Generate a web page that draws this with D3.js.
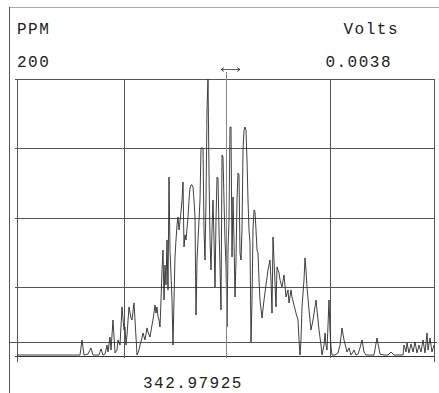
<!DOCTYPE html>
<html>
<head>
<meta charset="utf-8">
<script src="https://cdn.jsdelivr.net/npm/d3@7"></script>
<style>
  html, body { margin: 0; padding: 0; background: #fff; }
  svg { display: block; }
  text { font-family: "Liberation Mono", "DejaVu Sans Mono", monospace; fill: #222; }
</style>
</head>
<body>
<svg id="chart" width="439" height="393"></svg>
<script>
// ---- data ----
const leftTitle = "PPM";
const leftScaleLabel = "200";
const rightTitle = "Volts";
const rightScaleLabel = "0.0038";
const cursorLabel = "342.97925";

const yMax = 200;
const yGrid = [0, 50, 100, 150, 200];
const refLevel = 10;
const xGridChannels = [0, 107, 313, 417];
const cursorChannel = 209;
const channelMax = 417;

const channel = [0,63,65,67,71,74,76,82,84,86,88,90,91,93,94,96,98,100,101,103,105,107,108,109,110,112,114,115,117,119,120,122,123,125,126,128,130,131,133,135,136,138,139,140,141,142,143,144,145,146,147,148,149,150,151,152,153,154,155,156,157,158,159,160,161,162,164,165,166,167,168,169,171,172,173,174,175,176,177,178,179,180,181,182,183,184,186,187,188,189,190,191,192,193,194,195,196,197,198,199,200,201,202,203,204,205,206,207,208,209,210,211,212,213,214,215,216,217,218,219,220,221,222,223,224,225,226,227,228,229,230,231,232,233,234,235,236,237,238,239,240,241,242,243,245,247,249,251,253,254,255,256,257,259,260,262,263,265,267,269,271,272,274,275,277,279,281,282,283,284,285,287,288,289,290,292,294,296,299,301,302,304,305,307,308,309,310,312,313,314,315,318,321,323,325,327,329,330,332,334,336,337,339,341,343,345,347,349,357,360,363,367,371,374,377,386,387,389,390,392,394,396,398,400,402,404,406,408,410,411,413,415,417];
const intensity = [0.7,0.7,11.6,0.7,1.4,5.8,0.7,0.7,5.1,0.7,1.4,7.9,2.9,13.7,4.3,26.0,2.2,4.3,11.6,7.9,35.4,18.8,20.9,7.9,15.2,35.4,27.4,26.0,38.3,13.7,0.7,4.3,7.9,13.0,16.6,11.6,20.2,17.3,13.7,22.4,26.0,36.8,31.0,35.4,28.2,26.0,20.9,40.4,62.1,76.5,40.4,65.7,51.3,83.8,47.7,129.2,76.5,58.5,40.4,7.9,40.4,71.5,83.8,94.6,100.4,91.0,104.0,112.6,125.6,78.7,87.4,83.8,100.4,112.6,121.3,123.5,123.5,122.0,112.6,100.4,29.6,69.3,83.8,98.2,112.6,150.2,150.2,91.0,69.3,112.6,177.6,200,132.1,83.8,62.1,91.0,112.6,83.8,49.8,98.2,129.2,128.5,91.0,64.3,33.2,145.1,143.7,112.6,83.8,65.7,20.9,76.5,98.2,165.3,165.3,71.5,114.8,83.8,42.6,69.3,112.6,132.1,130.7,74.4,69.3,91.0,148.7,163.2,165.3,163.2,141.5,112.6,91.0,81.6,10.1,40.4,91.0,105.4,104.0,91.0,76.5,74.4,54.9,40.4,27.4,40.4,51.3,62.1,69.3,54.9,31.0,85.9,69.3,35.4,64.3,59.9,54.9,49.8,58.5,42.6,47.7,38.3,47.7,42.6,36.8,31.0,26.0,11.6,0.7,11.6,35.4,54.9,70.8,62.1,49.8,33.2,18.8,26.0,40.4,26.0,18.8,7.9,0.7,7.9,16.6,7.9,4.3,40.4,18.8,6.5,0.7,0.7,2.2,7.9,20.2,11.6,5.8,2.9,5.8,0.7,2.9,4.3,0.7,1.4,5.8,11.6,2.9,0.7,0.7,13.0,1.4,0.7,0.7,2.9,0.7,0.7,7.9,2.9,9.4,2.2,8.7,2.9,10.1,2.2,7.9,2.9,11.6,2.2,16.6,4.3,13.0,2.9,7.9];

// ---- layout ----
const plot = { left: 17, right: 434, top: 79, bottom: 356 };
const svg = d3.select("#chart");
const x = d3.scaleLinear().domain([0, channelMax]).range([plot.left, plot.right]);
const y = d3.scaleLinear().domain([0, yMax]).range([plot.bottom, plot.top]);
const crisp = v => Math.round(v) + 0.5;

// outer frame (scan border)
svg.append("line").attr("x1", 9.5).attr("x2", 439).attr("y1", 7.5).attr("y2", 7.5)
  .attr("stroke", "#aaa").attr("stroke-width", 1);
svg.append("line").attr("x1", 9.5).attr("x2", 9.5).attr("y1", 7).attr("y2", 393)
  .attr("stroke", "#555").attr("stroke-width", 1);

// horizontal grid
svg.append("g").selectAll("line").data(yGrid).join("line")
  .attr("x1", x(-2)).attr("x2", x(channelMax))
  .attr("y1", d => crisp(y(d))).attr("y2", d => crisp(y(d)))
  .attr("stroke", d => d === 0 ? "#333" : "#555").attr("stroke-width", 1);

// reference level line
svg.append("line")
  .attr("x1", x(-7)).attr("x2", x(channelMax + 3))
  .attr("y1", crisp(y(refLevel))).attr("y2", crisp(y(refLevel)))
  .attr("stroke", "#555").attr("stroke-width", 1);

// vertical grid
svg.append("g").selectAll("line").data(xGridChannels).join("line")
  .attr("x1", d => crisp(x(d))).attr("x2", d => crisp(x(d)))
  .attr("y1", y(yMax)).attr("y2", (d, i) => (i === 0 || i === xGridChannels.length - 1) ? y(0) + 6 : y(0) + 2)
  .attr("stroke", "#555").attr("stroke-width", 1);

// trace
const line = d3.line().x((d, i) => x(channel[i])).y(d => y(d));
svg.append("path").datum(intensity)
  .attr("d", line)
  .attr("fill", "none").attr("stroke", "#2a2a2a").attr("stroke-width", 0.9)
  .attr("stroke-linejoin", "miter");

// cursor
const cx = crisp(x(cursorChannel));
svg.append("line").attr("x1", cx).attr("x2", cx)
  .attr("y1", y(yMax) - 7).attr("y2", y(0) + 2)
  .attr("stroke", "#888").attr("stroke-width", 1);
// double arrow above cursor
const ay = y(yMax) - 9.5;
const ax0 = x(cursorChannel - 5), ax1 = x(cursorChannel + 14);
svg.append("path")
  .attr("d", `M${ax0},${ay}L${ax1},${ay}M${ax0 + 3},${ay - 2}L${ax0},${ay}L${ax0 + 3},${ay + 2}M${ax1 - 3},${ay - 2}L${ax1},${ay}L${ax1 - 3},${ay + 2}`)
  .attr("fill", "none").attr("stroke", "#333").attr("stroke-width", 0.8);

// texts
const ts = { "font-size": "16px", "letter-spacing": "1.5px" };
function label(str, xp, yp, anchor) {
  const t = svg.append("text").attr("x", xp).attr("y", yp).attr("text-anchor", anchor).text(str);
  Object.entries(ts).forEach(([k, v]) => t.style(k, v));
  return t;
}
label(leftTitle, plot.left, 34, "start");
label(leftScaleLabel, plot.left, 67, "start");
label(rightTitle, 399, 34, "end");
label(rightScaleLabel, 392, 67, "end");
label(cursorLabel, 143, 388, "start");
</script>
</body>
</html>
